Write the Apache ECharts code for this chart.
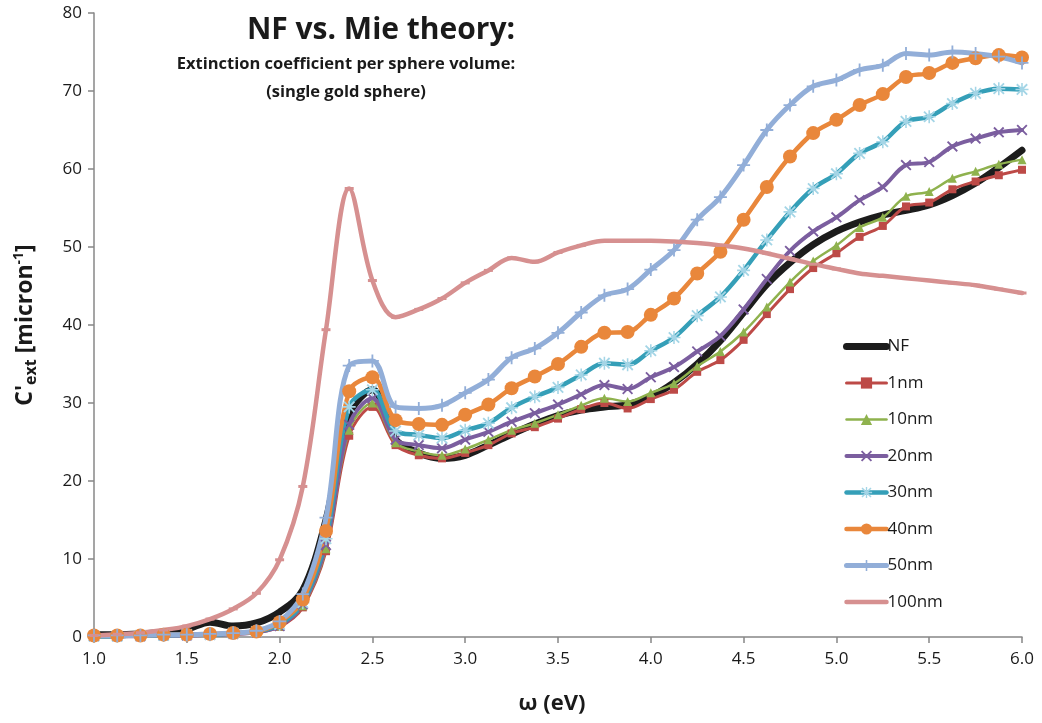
<!DOCTYPE html>
<html>
<head>
<meta charset="utf-8">
<script src="https://cdn.jsdelivr.net/npm/echarts@6/dist/echarts.min.js"></script>
<style>
html,body{margin:0;padding:0;background:#fff;}
#chart{width:1042px;height:723px;}
</style>
</head>
<body>
<div id="chart"></div>
<script>
// photon energy (eV)
const energy = [1.0,1.125,1.25,1.375,1.5,1.625,1.75,1.875,2.0,2.125,2.25,2.375,2.5,2.625,2.75,2.875,3.0,3.125,3.25,3.375,3.5,3.625,3.75,3.875,4.0,4.125,4.25,4.375,4.5,4.625,4.75,4.875,5.0,5.125,5.25,5.375,5.5,5.625,5.75,5.875,6.0];

const seriesNames = ['NF','1nm','10nm','20nm','30nm','40nm','50nm','100nm'];

const valNF    = [0.3,0.3,0.4,0.6,1.0,1.9,1.4,1.8,3.2,6.0,15.0,28.5,31.7,25.3,23.6,22.9,23.3,24.6,26.0,27.3,28.4,29.1,29.5,29.8,30.8,32.6,35.0,38.0,41.6,45.2,48.0,50.3,52.0,53.2,54.1,54.7,55.4,56.6,58.2,60.2,62.4];
const val1nm   = [0.1,0.1,0.1,0.2,0.2,0.3,0.4,0.6,1.3,3.8,11.0,25.8,29.5,24.6,23.3,22.9,23.6,24.6,26.1,26.9,28.0,29.2,30.0,29.3,30.5,31.7,34.0,35.5,38.1,41.4,44.6,47.3,49.2,51.3,52.7,55.2,55.7,57.4,58.4,59.2,59.9];
const val10nm  = [0.1,0.1,0.1,0.2,0.2,0.3,0.4,0.6,1.4,4.0,11.3,26.5,30.0,24.9,23.8,23.3,24.1,25.3,26.5,27.4,28.5,29.7,30.6,30.2,31.3,32.5,34.7,36.6,39.1,42.3,45.5,48.2,50.2,52.5,53.8,56.5,57.1,58.8,59.7,60.6,61.2];
const val20nm  = [0.1,0.1,0.1,0.2,0.2,0.3,0.4,0.6,1.4,4.2,11.8,27.2,30.6,25.3,24.6,24.2,25.3,26.3,27.6,28.7,29.8,31.1,32.3,31.8,33.3,34.6,36.6,38.6,42.0,45.9,49.5,52.0,53.8,56.0,57.7,60.5,60.9,62.9,63.9,64.7,65.0];
const val30nm  = [0.1,0.1,0.2,0.2,0.3,0.3,0.5,0.7,1.6,4.4,12.6,29.5,31.7,26.4,25.9,25.5,26.5,27.4,29.4,30.8,32.0,33.6,35.1,34.9,36.7,38.4,41.2,43.6,47.0,50.9,54.5,57.5,59.4,62.0,63.5,66.1,66.7,68.4,69.7,70.3,70.2];
const val40nm  = [0.2,0.2,0.2,0.3,0.3,0.4,0.5,0.7,1.9,4.8,13.6,31.5,33.3,27.8,27.3,27.2,28.5,29.8,31.9,33.4,35.0,37.2,39.0,39.1,41.3,43.4,46.6,49.4,53.5,57.7,61.6,64.6,66.3,68.2,69.6,71.8,72.3,73.6,74.2,74.6,74.3];
const val50nm  = [0.2,0.2,0.2,0.3,0.3,0.4,0.5,0.8,2.0,5.5,15.3,34.8,35.4,29.5,29.3,29.7,31.3,33.0,35.8,37.0,39.0,41.6,43.8,44.6,47.1,49.6,53.5,56.4,60.5,65.0,68.2,70.6,71.4,72.7,73.3,74.8,74.6,75.0,74.8,74.4,73.6];
const val100nm = [0.2,0.35,0.55,0.9,1.4,2.3,3.6,5.6,9.9,19.3,39.4,57.5,45.7,41.0,42.0,43.4,45.4,47.0,48.6,48.1,49.3,50.2,50.8,50.8,50.8,50.7,50.5,50.2,49.8,49.2,48.5,47.8,47.2,46.6,46.3,46.0,45.7,45.4,45.1,44.6,44.1];

const xTicks = ['1.0','1.5','2.0','2.5','3.0','3.5','4.0','4.5','5.0','5.5','6.0'];

const FONT = '"Open Sans", Lato, sans-serif';

const pairs = v => energy.map((x, i) => [x, v[i]]);

const SYM_X = 'path://M0,1.2L1.2,0L5,3.8L8.8,0L10,1.2L6.2,5L10,8.8L8.8,10L5,6.2L1.2,10L0,8.8L3.8,5Z';
const SYM_PLUS = 'path://M4.3,0H5.7V10H4.3Z M0,4.3H10V5.7H0Z';
const SYM_STAR = 'path://M4.4,0H5.6V10H4.4Z M1.5,0.5L9.5,8.5L8.5,9.5L0.5,1.5Z M8.5,0.5L9.5,1.5L1.5,9.5L0.5,8.5Z M0,4.4H10V5.6H0Z';

const styles = {
  'NF':    { color: '#1c1c1c', width: 7,   symbol: 'none',     size: 0 },
  '1nm':   { color: '#bd4a47', width: 3,   symbol: 'rect',     size: 8 },
  '10nm':  { color: '#8fb24e', width: 2.5, symbol: 'triangle', size: 9 },
  '20nm':  { color: '#7b5e9f', width: 4,   symbol: SYM_X,      size: 11 },
  '30nm':  { color: '#359fb8', width: 4.5, symbol: SYM_STAR,   size: 13, sym: '#a4d5e6' },
  '40nm':  { color: '#e9873b', width: 4.5, symbol: 'circle',   size: 14 },
  '50nm':  { color: '#92aed8', width: 5,   symbol: SYM_PLUS,   size: 13 },
  '100nm': { color: '#d69090', width: 4.5, symbol: 'rect',     size: [9, 3] }
};
const values = [valNF, val1nm, val10nm, val20nm, val30nm, val40nm, val50nm, val100nm];

function mk(name, data) {
  const s = styles[name];
  return {
    name: name,
    type: 'line',
    data: pairs(data),
    smooth: 0.35,
    showAllSymbol: true,
    symbol: s.symbol,
    symbolSize: s.size,
    showSymbol: s.symbol !== 'none',
    lineStyle: { color: s.color, width: s.width, cap: 'round', join: 'round' },
    itemStyle: { color: s.sym || s.color, borderWidth: 0 },
    emphasis: { disabled: true }
  };
}

const legendData = seriesNames.map(n => {
  const s = styles[n];
  const item = { name: n, lineStyle: { color: s.color, width: s.width, cap: 'round' } };
  if (n === 'NF' || n === '100nm') item.itemStyle = { color: 'rgba(0,0,0,0)', opacity: 0 };
  return item;
});

const chart = echarts.init(document.getElementById('chart'), null, { renderer: 'canvas' });

chart.setOption({
  animation: false,
  backgroundColor: '#ffffff',
  title: [
    {
      text: 'NF vs. Mie theory:',
      left: 376, top: 10, textAlign: 'center',
      textStyle: { fontFamily: FONT, fontWeight: 'bold', fontSize: 30, color: '#1a1a1a' }
    },
    {
      text: 'Extinction coefficient per sphere volume:\n(single gold sphere)',
      left: 341, top: 45, textAlign: 'center',
      textStyle: { fontFamily: FONT, fontWeight: 'bold', fontSize: 16.5, lineHeight: 28, color: '#1a1a1a' }
    }
  ],
  grid: { left: 88, right: 20, top: 13, bottom: 86, containLabel: false },
  legend: {
    orient: 'vertical',
    left: 838, top: 333,
    itemWidth: 40, itemHeight: 14, itemGap: 19.5,
    textStyle: { fontFamily: FONT, fontSize: 17, color: '#1a1a1a', padding: [0,0,0,-4] },
    data: legendData
  },
  xAxis: {
    type: 'value', min: 1, max: 6, interval: 0.5,
    name: 'ω (eV)', nameLocation: 'middle', nameGap: 56,
    nameTextStyle: { fontFamily: FONT, fontWeight: 'bold', fontSize: 22, color: '#1a1a1a', padding: [0, 12, 0, 0] },
    axisLine: { show: true, lineStyle: { color: '#878787', width: 1.5 } },
    axisTick: { show: true, inside: false, length: 6, lineStyle: { color: '#878787', width: 1.5 } },
    axisLabel: { fontFamily: FONT, fontSize: 17, color: '#1a1a1a', margin: 14,
      formatter: v => xTicks[Math.round((v - 1) / 0.5)] },
    splitLine: { show: false }
  },
  yAxis: {
    type: 'value', min: 0, max: 80, interval: 10,
    name: "{a|C'}{sub|ext}{a| [micron}{sup|-1}{a|]}",
    nameLocation: 'middle', nameRotate: 90, nameGap: 52,
    nameTextStyle: {
      fontFamily: FONT, fontWeight: 'bold', fontSize: 23, color: '#1a1a1a',
      rich: {
        a: { fontFamily: FONT, fontWeight: 'bold', fontSize: 23, color: '#1a1a1a', lineHeight: 34, verticalAlign: 'middle' },
        sub: { fontFamily: FONT, fontWeight: 'bold', fontSize: 16, color: '#1a1a1a', lineHeight: 34, verticalAlign: 'bottom', padding: [0,0,3,0] },
        sup: { fontFamily: FONT, fontWeight: 'bold', fontSize: 14, color: '#1a1a1a', lineHeight: 34, verticalAlign: 'top', padding: [4,0,0,0] }
      }
    },
    axisLine: { show: true, lineStyle: { color: '#878787', width: 1.5 } },
    axisTick: { show: true, inside: false, length: 6, lineStyle: { color: '#878787', width: 1.5 } },
    axisLabel: { fontFamily: FONT, fontSize: 17, color: '#1a1a1a', margin: 12 },
    splitLine: { show: false }
  },
  series: seriesNames.map((n, i) => mk(n, values[i]))
});
</script>
</body>
</html>
